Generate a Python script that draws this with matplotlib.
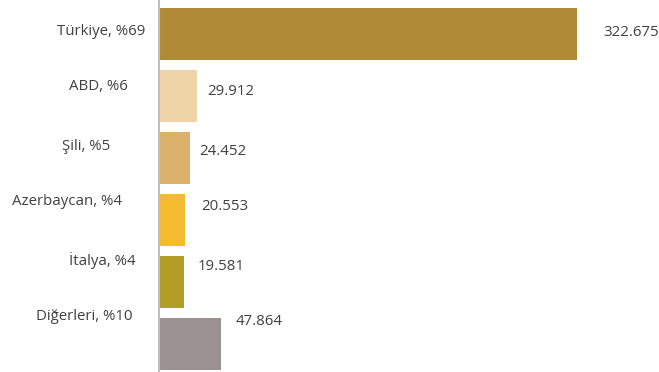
import matplotlib.pyplot as plt
import numpy as np

categories = ['Türkiye, %69', 'ABD, %6', 'Şili, %5', 'Azerbaycan, %4', 'İtalya, %4', 'Diğerleri, %10']
values = [322.675, 29.912, 24.452, 20.553, 19.581, 47.864]
value_labels = ['322.675', '29.912', '24.452', '20.553', '19.581', '47.864']
colors = ['#B08A37', '#EED4A6', '#DBB16B', '#F4BA30', '#B19D28', '#9A9190']

# label placement (pixels) - the original labels drift a bit from the bar centres
cat_dx = [-13, -31, -48, -37, -23, -26]
cat_dy = [3, 9, 11, 18, 21, 27]
val_dx = [26, 10, 9, 16, 14, 15]
val_dy = [2, 4, 6, 13, 15, 22]

fig = plt.figure(figsize=(6.59, 3.72), dpi=100)
ax = fig.add_axes([158.5 / 659, 0, 1 - 158.5 / 659, 1])

y = np.arange(len(values))
ax.barh(y, values, height=0.84, color=colors)
ax.set_xlim(0, 386)
ax.set_ylim(5.46, -0.55)

for i in range(len(values)):
    ax.annotate(categories[i], xy=(0, y[i]), xytext=(cat_dx[i], cat_dy[i]),
                textcoords='offset pixels', ha='right', va='center',
                fontsize=10.8, color='#404040', family='Open Sans', annotation_clip=False)
    ax.annotate(value_labels[i], xy=(values[i], y[i]), xytext=(val_dx[i], val_dy[i]),
                textcoords='offset pixels', ha='left', va='center',
                fontsize=10.8, color='#404040', family='Open Sans')

for s in ['top', 'right', 'bottom']:
    ax.spines[s].set_visible(False)
ax.spines['left'].set_color('#BFBFBF')
ax.spines['left'].set_linewidth(1.5)
ax.set_xticks([])
ax.set_yticks([])

fig.savefig('out.png', dpi=100)
